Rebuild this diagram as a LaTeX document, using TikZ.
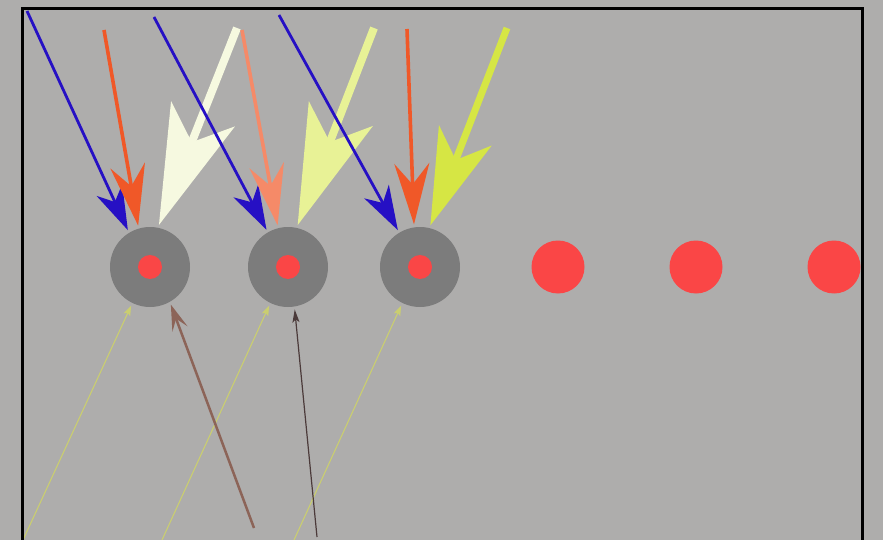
\documentclass[tikz,border=0pt]{standalone}
\usetikzlibrary{arrows.meta}
\definecolor{bg}{RGB}{174,173,172}
\definecolor{hubgray}{RGB}{124,124,124}
\definecolor{dotred}{RGB}{250,70,70}
\definecolor{cblue}{RGB}{38,16,196}
\definecolor{corange}{RGB}{240,88,40}
\definecolor{ccream}{RGB}{246,249,224}
\definecolor{csalmon}{RGB}{245,138,104}
\definecolor{cpale}{RGB}{232,242,150}
\definecolor{cyellow}{RGB}{214,230,68}
\definecolor{cthin}{RGB}{202,206,112}
\definecolor{cbrown}{RGB}{140,100,88}
\definecolor{cdark}{RGB}{75,58,58}
\tikzset{
  hub/.style={circle,fill=hubgray,minimum size=80pt,inner sep=0pt,outer sep=3pt},
  core/.style={circle,fill=dotred,minimum size=24pt,inner sep=0pt},
  reddot/.style={circle,fill=dotred,minimum size=53pt,inner sep=0pt},
  bluearr/.style={draw=cblue,line width=2.8pt,-{Stealth[length=44pt,width=28pt,inset=13pt,fill=cblue]}},
  orangearr/.style={draw=#1,line width=3.6pt,-{Stealth[length=61pt,width=35pt,inset=21pt,fill=#1]}},
  fatarr/.style={draw=#1,line width=8pt,-{Stealth[length=119pt,width=68pt,inset=30pt,fill=#1]}},
  yelarr/.style={draw=#1,line width=7pt,-{Stealth[length=96pt,width=56pt,inset=26pt,fill=#1]}},
  thinarr/.style={draw=cthin,line width=1.1pt,-{Stealth[length=10pt,width=7pt,inset=2pt,fill=cthin]}},
  brownarr/.style={draw=cbrown,line width=2.5pt,-{Stealth[length=26pt,width=16pt,inset=11pt,fill=cbrown]}},
  darkarr/.style={draw=cdark,line width=1.2pt,-{Stealth[length=13pt,width=7pt,inset=3pt,fill=cdark]}},
  frame/.style={draw=black,line width=3pt}
}
\begin{document}
\begin{tikzpicture}[x=1pt,y=-1pt]
\fill[bg] (0,0) rectangle (883,540);
\useasboundingbox (0,0) rectangle (883,540);
% hubs
\node[hub] (c1) at (150,267) {};
\node[hub] (c2) at (288,267) {};
\node[hub] (c3) at (420,267) {};
\node[core] (d1) at (150,267) {};
\node[core] (d2) at (288,267) {};
\node[core] (d3) at (420,267) {};
\node[reddot] (r1) at (558,267) {};
\node[reddot] (r2) at (696,267) {};
\node[reddot] (r3) at (834,267) {};
% start points
\coordinate (b1) at (27,11);
\coordinate (o1) at (104,30);
\coordinate (w1) at (237,28);
\coordinate (b2) at (154,17);
\coordinate (o2) at (242,30);
\coordinate (w2) at (374,28);
\coordinate (b3) at (279,15);
\coordinate (o3) at (407,29);
\coordinate (w3) at (507,28);
\coordinate (t1) at (23,540);
\coordinate (t2) at (162,540);
\coordinate (t3) at (294,540);
\coordinate (u1) at (254,528);
\coordinate (u2) at (317,537);
% top arrows
\draw[bluearr] (b1) -- (c1.121);
\draw[orangearr=corange] (o1) -- (c1.106);
\draw[fatarr=ccream] (w1) -- (c1.78);
\draw[bluearr] (b2) -- (c2.120);
\draw[orangearr=csalmon] (o2) -- (c2.104);
\draw[fatarr=cpale] (w2) -- (c2.77);
\draw[bluearr] (b3) -- (c3.121);
\draw[orangearr=corange] (o3) -- (c3.98);
\draw[yelarr=cyellow] (w3) -- (c3.76);
% bottom arrows
\draw[thinarr] (t1) -- (c1.-116);
\draw[thinarr] (t2) -- (c2.-116);
\draw[thinarr] (t3) -- (c3.-116);
\draw[brownarr] (u1) -- (c1.-61);
\draw[darkarr] (u2) -- (c2.-81);
% frame
\draw[frame] (22.5,545) -- (22.5,9) -- (862,9) -- (862,545);
\end{tikzpicture}
\end{document}
